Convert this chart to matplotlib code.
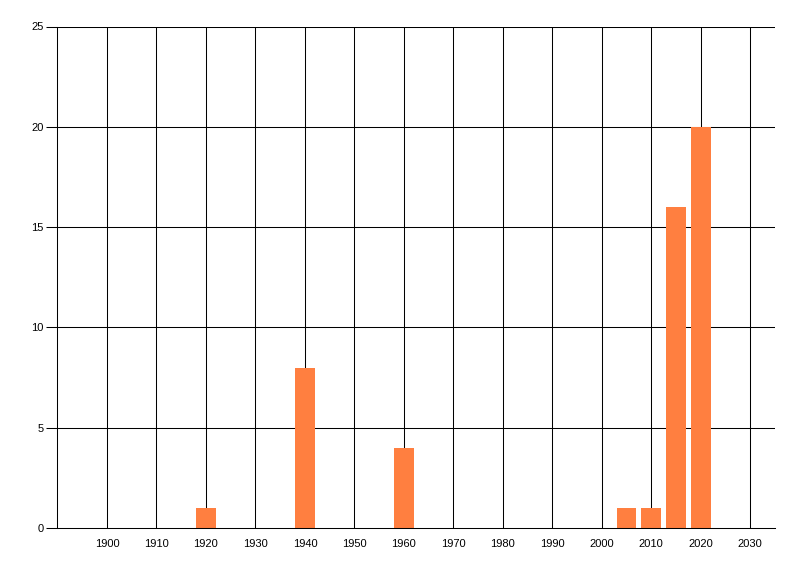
import matplotlib
matplotlib.use("Agg")
import matplotlib.pyplot as plt

years = [1920, 1940, 1960, 2005, 2010, 2015, 2020]
counts = [1, 8, 4, 1, 1, 16, 20]
xticks = list(range(1900, 2031, 10))
yticks = [0, 5, 10, 15, 20, 25]

plt.rcParams['font.family'] = ['Liberation Sans', 'DejaVu Sans']

fig = plt.figure(figsize=(8, 5.76), dpi=100)
ax = fig.add_axes([57.5/800, 48/576, (775-57.5)/800, (528-26.5)/576])

lw = 0.75
for x in xticks:
    ax.axvline(x, color='black', lw=lw, zorder=1)
for y in yticks[1:]:
    ax.axhline(y, color='black', lw=lw, zorder=1)

ax.bar(years, counts, width=4, color='#FF7F40', zorder=2)

ax.set_xlim(1890, 2035)
ax.set_ylim(0, 25)
ax.set_xticks(xticks)
ax.set_xticklabels([str(x) for x in xticks])
ax.set_yticks(yticks)
ax.tick_params(axis='x', length=0, pad=8, labelsize=8)
ax.tick_params(axis='y', length=8, width=lw, pad=2, labelsize=8)
for s in ['top', 'right']:
    ax.spines[s].set_visible(False)
for s in ['left', 'bottom']:
    ax.spines[s].set_linewidth(lw)
    ax.spines[s].set_color('black')

fig.savefig('out.png', dpi=100)
